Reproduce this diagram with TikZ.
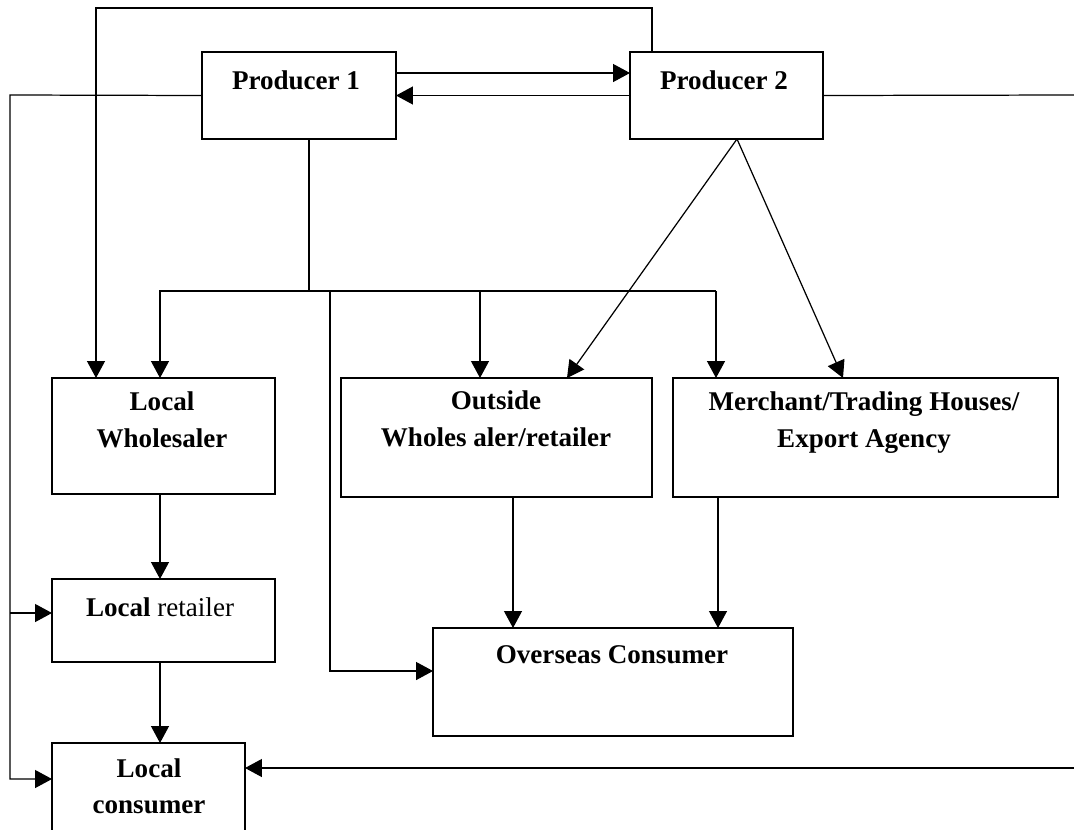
\documentclass[tikz,border=0pt]{standalone}
\usepackage{fontspec}
\setmainfont{Liberation Serif}
\usetikzlibrary{arrows.meta}

\begin{document}
\begin{tikzpicture}[x=0.02cm, y=-0.02cm, line width=0.7pt,
    box/.style={draw, rectangle, inner sep=0pt, outer sep=0pt},
    txt/.style={draw=none, anchor=base, align=center, inner sep=0pt,
        font=\fontsize{15.4}{20.5}\selectfont\bfseries},
    arr/.style={-{Triangle[length=0.34cm, width=0.36cm]}}]
             \useasboundingbox (0,0) rectangle (1074,829);
             \clip (0,0) rectangle (1074,829);

             % boxes
             \node[box, minimum width=3.88cm, minimum height=1.74cm] (p1) at (299, 95.5) {};
             \node[box, minimum width=3.86cm, minimum height=1.74cm] (p2) at (726.5, 95.5) {};
             \node[box, minimum width=4.46cm, minimum height=2.32cm] (lw) at (163.5, 436) {};
             \node[box, minimum width=6.22cm, minimum height=2.38cm] (ow) at (496.5, 437.5) {};
             \node[box, minimum width=7.70cm, minimum height=2.38cm] (mt) at (865.5, 437.5) {};
             \node[box, minimum width=4.46cm, minimum height=1.66cm] (lr) at (163.5, 620.5) {};
             \node[box, minimum width=7.20cm, minimum height=2.16cm] (oc) at (613, 682) {};
             \node[box, minimum width=3.86cm, minimum height=2.40cm] (lc) at (148.5, 803) {};

             % texts (base = last line)
             \node[txt] (p1t) at (296, 89) {Producer 1};
             \node[txt] (p2t) at (724, 89) {Producer 2};
             \node[txt] (lwt) at (162, 447) {Local\\Wholesaler};
             \node[txt] (owt) at (496, 446) {Outside\\Wholes aler/retailer};
             \node[txt] (mtt) at (864, 447) {Merchant/Trading Houses/\\Export Agency};
             \node[txt] (lrt) at (160, 616) {Local \mdseries retailer};
             \node[txt] (oct) at (612, 663) {Overseas Consumer};
             \node[txt] (lct) at (149, 813) {Local\\consumer};

             % free ends and bends
             \coordinate (tl) at (96, 8);
             \coordinate (tr) at (652, 8);
             \coordinate (ll) at (10, 95);
             \coordinate (rr) at (1074, 95);
             \coordinate (rb) at (1074, 768);
             \coordinate (hi) at (0, 73);
             \coordinate (bus) at (309, 291);
             \coordinate (bl) at (160, 291);
             \coordinate (br) at (716, 291);
             \coordinate (bo) at (330, 291);
             \coordinate (p2b) at (737, 139);

             % producers
             \draw[arr] (p1.east |- hi) -- (p2.west |- hi);
             \draw[arr] (p2.west) -- (p1.east);
             \draw[arr] (tr |- p2.north) -- (tr) -- (tl) -- (tl |- lw.north);
             \draw (p2.east) -- (rr);
             \draw[arr] (rb) -- (lc.east |- rb);
             \draw[arr] (p1.west) -- (ll) -- (10, 779) -- (lc.west |- 0, 779);
             \draw[arr] (10, 613) -- (lr.west |- 0, 613);

             % bus under producer 1
             \draw (bus |- p1.south) -- (bus);
             \draw[arr] (br) -- (bl) -- (bl |- lw.north);
             \draw[arr] (480, 291) -- (480, 378);
             \draw[arr] (br) -- (br |- mt.north);
             \draw[arr] (bo) -- (330, 671) -- (oc.west |- 0, 671);

             % producer 2 fans out
             \draw[arr] (p2b) -- (567, 378);
             \draw[arr] (p2b) -- (843, 378);

             % down to consumers
             \draw[arr] (513, 497) -- (513, 628);
             \draw[arr] (718, 497) -- (718, 628);
             \draw[arr] (lw.south -| bl) -- (lr.north -| bl);
             \draw[arr] (lr.south -| bl) -- (lc.north -| bl);
             \end{tikzpicture}
\end{document}
